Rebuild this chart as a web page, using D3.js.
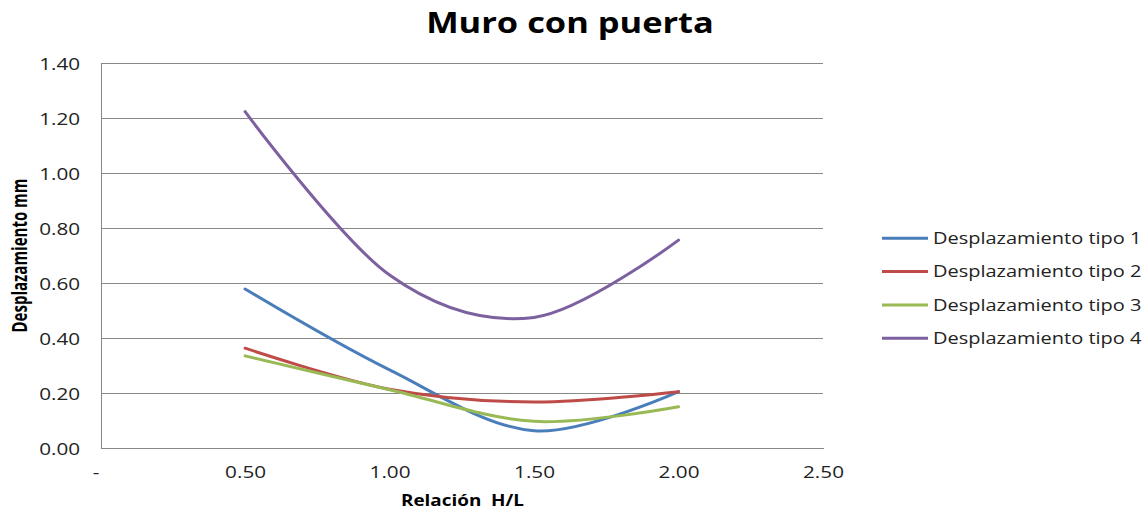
<!DOCTYPE html>
<html>
<head>
<meta charset="utf-8">
<script src="https://cdn.jsdelivr.net/npm/d3@7"></script>
<style>
  html, body { margin: 0; padding: 0; background: #fff; }
  svg { display: block; }
</style>
</head>
<body>
<svg id="chart" width="1145" height="510"></svg>
<script>
// Relación H/L values for each wall
const relacion = [0.5, 1.0, 1.5, 2.0];

// Displacement (mm) for each type
const tipo1 = [0.579, 0.285, 0.064, 0.206];
const tipo2 = [0.364, 0.215, 0.168, 0.206];
const tipo3 = [0.336, 0.213, 0.098, 0.151];
const tipo4 = [1.224, 0.630, 0.476, 0.757];

const seriesNames = ["Desplazamiento tipo 1", "Desplazamiento tipo 2", "Desplazamiento tipo 3", "Desplazamiento tipo 4"];
const seriesColors = ["#4A7EBB", "#BE4B48", "#98B954", "#7D60A0"];

const xTicks = [0, 0.5, 1.0, 1.5, 2.0, 2.5];
const yTicks = [0, 0.2, 0.4, 0.6, 0.8, 1.0, 1.2, 1.4];

const series = [tipo1, tipo2, tipo3, tipo4].map((vals, i) => ({
  name: seriesNames[i],
  color: seriesColors[i],
  points: vals.map((v, j) => [relacion[j], v])
}));

const svg = d3.select("#chart");
const margin = { left: 100.6, right: 322, top: 63.3, bottom: 61.7 };
const W = 1145, H = 510;

const x = d3.scaleLinear().domain([0, 2.5]).range([margin.left, W - margin.right]);
const y = d3.scaleLinear().domain([0, 1.4]).range([H - margin.bottom, margin.top]);

const fontUI = "'Open Sans', 'Noto Sans', sans-serif";
const gridColor = "#888888";
const textColor = "#222";
// text in this chart is drawn a little wide
const wide = 1.27;

// Horizontal gridlines
svg.append("g")
  .selectAll("line")
  .data(yTicks.filter(d => d > 0))
  .join("line")
  .attr("x1", x(0)).attr("x2", x(2.5))
  .attr("y1", d => y(d)).attr("y2", d => y(d))
  .attr("stroke", gridColor).attr("stroke-width", 1)
  .attr("shape-rendering", "crispEdges");

// Y axis
const yAxis = svg.append("g")
  .attr("transform", `translate(${x(0)},0)`)
  .call(d3.axisLeft(y).tickValues(yTicks).tickFormat(d3.format(".2f")).tickSize(0));
yAxis.select(".domain").attr("stroke", gridColor).attr("shape-rendering", "crispEdges");
yAxis.selectAll("text")
  .attr("x", 0).attr("dy", "0.36em")
  .attr("transform", `translate(-20.5,0) scale(${wide},1)`)
  .attr("font-family", fontUI).attr("font-size", 16.3).attr("fill", textColor);

// X axis
const xAxis = svg.append("g")
  .attr("transform", `translate(0,${y(0)})`)
  .call(d3.axisBottom(x).tickValues(xTicks)
    .tickFormat(d => d === 0 ? "-" : d3.format(".2f")(d))
    .tickSize(0));
xAxis.select(".domain").attr("stroke", gridColor).attr("shape-rendering", "crispEdges");
xAxis.selectAll("text")
  .attr("y", 29.5).attr("dy", 0)
  .attr("transform", `scale(${wide},1)`)
  .attr("font-family", fontUI).attr("font-size", 16.3).attr("fill", textColor);
xAxis.selectAll(".tick").filter(d => d === 0).select("text")
  .attr("transform", `translate(-5,0) scale(${wide},1)`);

// Smoothed series lines
const line = d3.line()
  .x(d => x(d[0]))
  .y(d => y(d[1]))
  .curve(d3.curveCardinal.tension(0));

svg.append("g")
  .selectAll("path")
  .data(series)
  .join("path")
  .attr("d", d => line(d.points))
  .attr("fill", "none")
  .attr("stroke", d => d.color)
  .attr("stroke-width", 3)
  .attr("stroke-linecap", "round");

// Title
svg.append("text")
  .attr("transform", "translate(570,32.5) scale(1.23,1)")
  .attr("text-anchor", "middle")
  .attr("font-family", fontUI).attr("font-weight", "bold").attr("font-size", 28)
  .attr("fill", "#000")
  .text("Muro con puerta");

// Axis titles
svg.append("text")
  .attr("transform", "translate(462.5,506) scale(1.18,1)")
  .attr("text-anchor", "middle")
  .attr("xml:space", "preserve")
  .style("white-space", "pre")
  .attr("font-family", fontUI).attr("font-weight", "bold").attr("font-size", 16)
  .attr("fill", "#000")
  .text("Relación  H/L");

svg.append("text")
  .attr("transform", "translate(26.7,255.5) rotate(-90) scale(1,1.38)")
  .attr("text-anchor", "middle")
  .attr("font-family", fontUI)
  .attr("font-weight", "bold").attr("font-size", 15)
  .attr("fill", "#000")
  .text("Desplazamiento mm");

// Legend
const legend = svg.append("g")
  .selectAll("g")
  .data(series)
  .join("g")
  .attr("transform", (d, i) => `translate(882,${238.3 + i * 33.3})`);

legend.append("line")
  .attr("x1", 0).attr("x2", 46)
  .attr("stroke", d => d.color).attr("stroke-width", 3);

legend.append("text")
  .attr("transform", "translate(51,5.8) scale(1.19,1)")
  .attr("font-family", fontUI).attr("font-size", 16.8)
  .attr("fill", textColor)
  .text(d => d.name);
</script>
</body>
</html>
